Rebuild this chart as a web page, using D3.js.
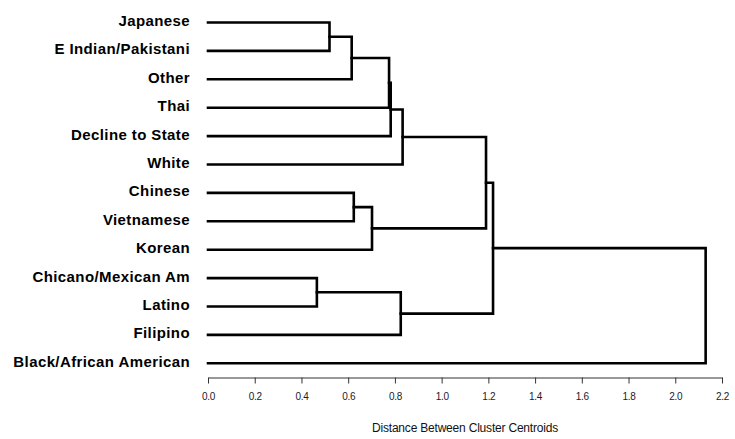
<!DOCTYPE html>
<html>
<head>
<meta charset="utf-8">
<script src="https://cdn.jsdelivr.net/npm/d3@7"></script>
<style>
  html, body { margin: 0; padding: 0; background: #fff; }
  svg { display: block; }
  .leaf-label { font-family: "Liberation Sans", Arial, sans-serif; font-weight: bold; font-size: 15px; letter-spacing: 0.4px; fill: #000; }
  .tick-label { font-family: "Liberation Sans", Arial, sans-serif; font-size: 10px; letter-spacing: -0.3px; fill: #1a1a2a; }
  .axis-title { font-family: "Liberation Sans", Arial, sans-serif; font-size: 12px; letter-spacing: -0.2px; fill: #111; }
</style>
</head>
<body>
<svg id="chart" width="735" height="439"></svg>
<script>
// Groups, in the top-to-bottom order of the dendrogram leaves
const leaves = [
  "Japanese", "E Indian/Pakistani", "Other", "Thai", "Decline to State", "White",
  "Chinese", "Vietnamese", "Korean", "Chicano/Mexican Am", "Latino", "Filipino",
  "Black/African American"
];

// Agglomeration steps: cluster ids 0..12 are leaves, each merge creates id 13, 14, ...
const mergeLeft   = [0, 13, 14, 15, 16, 6, 18, 9, 20, 17, 22, 23];
const mergeRight  = [1, 2, 3, 4, 5, 7, 8, 10, 11, 19, 21, 12];
const mergeHeight = [0.52, 0.615, 0.775, 0.782, 0.833, 0.624, 0.702, 0.466, 0.825, 1.19, 1.22, 2.13];

// Axis ticks
const tickValues = [0.0, 0.2, 0.4, 0.6, 0.8, 1.0, 1.2, 1.4, 1.6, 1.8, 2.0, 2.2];
const axisTitle = "Distance Between Cluster Centroids";

const svg = d3.select("#chart");

const x = d3.scaleLinear().domain([0, 2.2]).range([208, 722]);
const y = d3.scalePoint().domain(leaves).range([22.5, 363.3]);

// Node positions: leaves at distance 0, merged clusters at their merge distance,
// vertically centred between the two clusters they join
const nodes = leaves.map(name => ({ h: 0, y: y(name) }));
mergeLeft.forEach((l, i) => {
  const r = mergeRight[i];
  nodes.push({ h: mergeHeight[i], y: (nodes[l].y + nodes[r].y) / 2, left: l, right: r });
});

// One elbow path per merge
const links = svg.append("g")
  .attr("fill", "none")
  .attr("stroke", "#000")
  .attr("stroke-width", 2.6)
  .attr("stroke-linejoin", "miter")
  .attr("stroke-linecap", "square");

links.selectAll("path")
  .data(nodes.filter(n => n.left !== undefined))
  .join("path")
  .attr("d", n => {
    const a = nodes[n.left], b = nodes[n.right];
    return `M${x(a.h)},${a.y}H${x(n.h)}V${b.y}H${x(b.h)}`;
  });

// Leaf labels
svg.append("g")
  .selectAll("text")
  .data(leaves)
  .join("text")
  .attr("class", "leaf-label")
  .attr("x", x(0) - 18)
  .attr("y", d => y(d) + 3.5)
  .attr("text-anchor", "end")
  .text(d => d);

// Distance axis
const axis = d3.axisBottom(x)
  .tickValues(tickValues)
  .tickFormat(d3.format(".1f"))
  .tickSize(6)
  .tickSizeOuter(0)
  .tickPadding(9);

const gAxis = svg.append("g")
  .attr("transform", "translate(0,377.5)")
  .call(axis);

gAxis.select(".domain").attr("stroke", "#333").attr("stroke-width", 1);
gAxis.selectAll(".tick line").attr("stroke", "#333");
gAxis.selectAll(".tick text")
  .attr("class", "tick-label")
  .attr("font-family", null)
  .attr("font-size", null)
  .attr("fill", null);

svg.append("text")
  .attr("class", "axis-title")
  .attr("x", (x.range()[0] + x.range()[1]) / 2)
  .attr("y", 432)
  .attr("text-anchor", "middle")
  .text(axisTitle);
</script>
</body>
</html>
